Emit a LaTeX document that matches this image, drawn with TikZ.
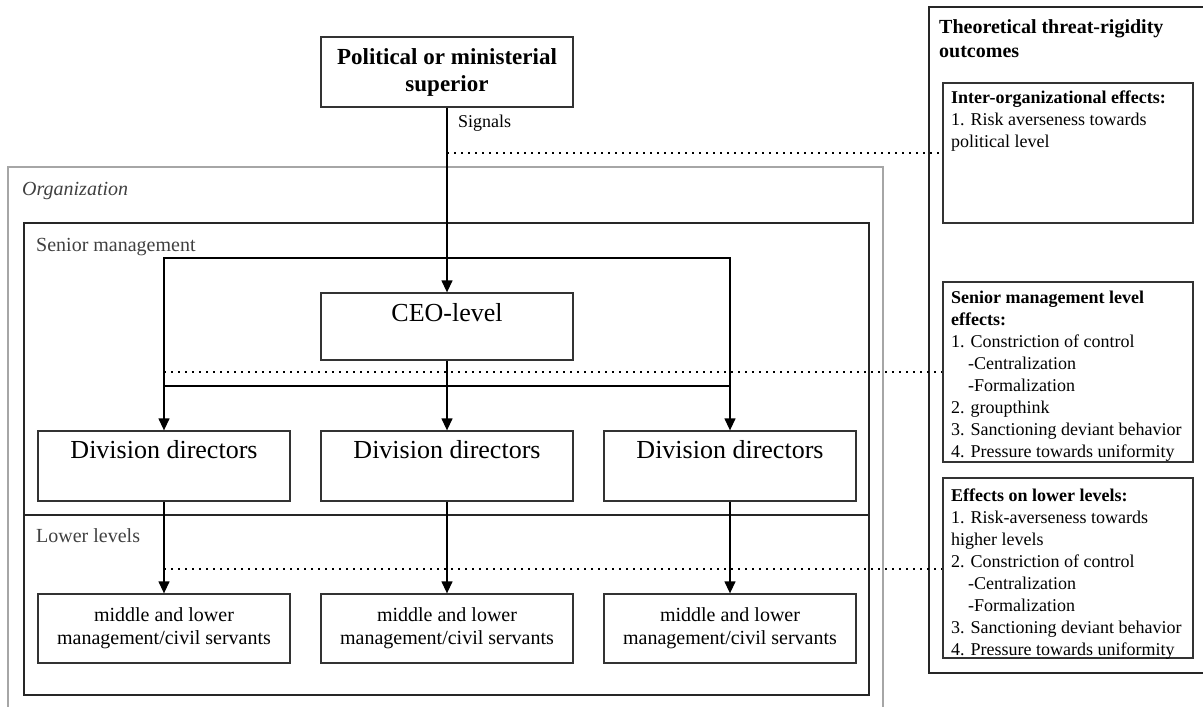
\documentclass[tikz,border=0pt]{standalone}
\usepackage{fontspec}
\setmainfont{Liberation Serif}
\usepackage{xcolor}
\usepackage{tikz}
\usetikzlibrary{arrows.meta}

\tikzset{
  box/.style={draw=black!80,line width=1.3pt,minimum width=252pt,inner sep=0pt},
  effbox/.style={draw=black!80,line width=1.3pt,minimum width=250pt,inner sep=0pt},
  arr/.style={line width=1.3pt,-{Triangle[length=12pt,width=11pt]}},
  link/.style={line width=1.3pt,line cap=rect},
  dotline/.style={line width=1.6pt,dash pattern=on 1.6pt off 5.4pt},
  frame/.style={draw=black!85,line width=1.3pt},
  orgframe/.style={draw=black!35,line width=1.6pt},
  bigtext/.style={anchor=base,inner sep=0pt,font=\fontsize{26}{30}\selectfont},
  midtext/.style={align=center,font=\fontsize{20}{23}\selectfont},
  efftext/.style={anchor=north west,inner sep=0pt,align=left,font=\fontsize{18}{22}\selectfont},
  lvltext/.style={anchor=base west,inner sep=0pt,text=black!75,font=\fontsize{20}{24}\selectfont}
}

\begin{document}
\begin{tikzpicture}[x=1pt,y=-1pt]
    \useasboundingbox (0,0) rectangle (1203,707);

    % frames
    \draw[orgframe] (8,707) -- (8,167) -- (883,167) -- (883,707);
    \draw[frame] (24,223) rectangle (869,695);
    \draw[frame] (24,515) -- (869,515);
    \draw[frame] (1203,7) -- (929,7) -- (929,673) -- (1203,673);

    \node[lvltext,font=\itshape\fontsize{20}{24}\selectfont] (orgt) at (22,195.5) {Organization};
    \node[lvltext] (seniorlvl) at (36,251.5) {Senior management};
    \node[lvltext] (lowerlvl) at (36,542.5) {Lower levels};

    % hierarchy
    \node[box,minimum height=70pt,align=center,font=\bfseries\fontsize{23}{27}\selectfont] (pol) at (447,72) {Political or ministerial\\superior};
    \node[anchor=base west,inner sep=0pt,font=\fontsize{18}{22}\selectfont] (sig) at (458,127) {Signals};

    \node[box,minimum height=67pt] (ceo) at (447,326.5) {};
    \node[bigtext] (ceot) at ([yshift=-29pt]ceo.north) {CEO-level};

    \foreach \i/\x in {1/164,2/447,3/730} {
        \node[box,minimum height=70pt] (dd\i) at (\x,466) {};
        \node[bigtext] (ddt\i) at ([yshift=-28pt]dd\i.north) {Division directors};
        \node[box,minimum height=69pt,midtext] (ml\i) at (\x,628.5) {middle and lower\\management/civil servants};
        \draw[arr] (dd\i) -- (ml\i);
    }

    \coordinate (brl) at (164,258);
    \coordinate (brr) at (730,258);
    \coordinate (hl) at (164,386);
    \coordinate (hr) at (730,386);

    \draw[arr] (pol) -- (ceo);
    \draw[arr] (ceo) -- (dd2);
    \draw[link] (brl) -- (brr);
    \draw[arr] (brl) -- (dd1);
    \draw[arr] (brr) -- (dd3);
    \draw[link] (hl) -- (hr);

    % outcomes
    \node[efftext,font=\bfseries\fontsize{20}{24}\selectfont] (title) at (939,19) {Theoretical threat-rigidity\\outcomes};

    \node[effbox,minimum height=140pt] (inter) at (1068,153) {};
    \node[efftext] (intert) at (951,91) {\textbf{Inter-organizational effects:}\\1. Risk averseness towards\\political level};

    \node[effbox,minimum height=180pt] (senior) at (1068,372) {};
    \node[efftext] (seniort) at (951,291) {\textbf{Senior management level}\\\textbf{effects:}\\1. Constriction of control\\\hspace*{17pt}-Centralization\\\hspace*{17pt}-Formalization\\2. groupthink\\3. Sanctioning deviant behavior\\4. Pressure towards uniformity};

    \node[effbox,minimum height=180pt] (lower) at (1068,568) {};
    \node[efftext] (lowert) at (951,489) {\textbf{Effects on lower levels:}\\1. Risk-averseness towards\\higher levels\\2. Constriction of control\\\hspace*{17pt}-Centralization\\\hspace*{17pt}-Formalization\\3. Sanctioning deviant behavior\\4. Pressure towards uniformity};

    % dotted links
    \coordinate (s0) at (447,153);
    \coordinate (s1) at (164,372);
    \coordinate (s2) at (164,569);
    \draw[dotline] (s0) -- (inter.west |- s0);
    \draw[dotline] (s1) -- (senior.west |- s1);
    \draw[dotline] (s2) -- (lower.west |- s2);
\end{tikzpicture}
\end{document}
